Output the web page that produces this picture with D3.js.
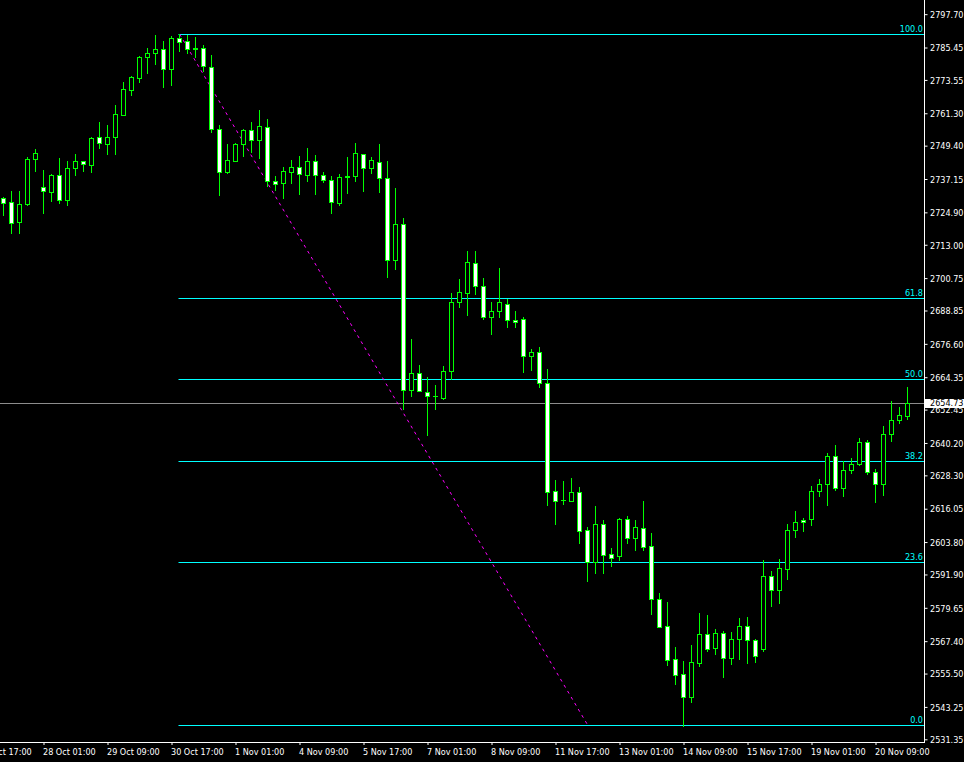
<!DOCTYPE html>
<html><head><meta charset="utf-8">
<script src="https://cdn.jsdelivr.net/npm/d3@7"></script>
<style>
html,body{margin:0;padding:0;background:#000;overflow:hidden}
text{font-family:"DejaVu Sans Condensed","DejaVu Sans",sans-serif;font-stretch:condensed;font-size:9px}
</style>
</head><body>
<svg id="c" width="964" height="762"></svg>
<script>
// H4 candles, bar index 0..113
const openP  = [2730.2,2728.7,2721.5,2728.1,2744.4,2734.1,2732.5,2738.5,2729.3,2741.1,
  2743.6,2742.4,2752.5,2750.1,2752.5,2760.8,2770.0,2774.4,2781.9,2783.3,
  2784.8,2777.7,2788.8,2787.8,2784.9,2785.2,2778.2,2755.4,2739.6,2743.9,
  2749.9,2755.0,2751.4,2756.1,2736.3,2735.6,2739.8,2741.5,2738.7,2743.6,
  2738.5,2736.7,2728.4,2737.9,2738.1,2746.2,2741.3,2743.3,2737.4,2707.3,
  2720.5,2659.8,2665.8,2658.8,2657.3,2656.8,2666.5,2691.9,2695.4,2706.2,
  2697.7,2686.4,2688.6,2691.1,2685.3,2685.6,2672.0,2673.5,2662.1,2622.4,
  2619.1,2619.0,2622.1,2608.1,2596.6,2610.3,2599.3,2598.6,2612.2,2605.4,
  2608.9,2602.2,2582.8,2572.9,2560.7,2555.3,2547.0,2559.5,2569.9,2565.0,
  2570.3,2561.3,2568.1,2572.9,2567.7,2564.6,2591.2,2586.1,2594.0,2608.1,
  2611.8,2612.2,2622.4,2625.0,2635.3,2623.5,2630.2,2632.4,2640.4,2629.4,
  2625.0,2643.4,2648.5,2650.0];
const highP  = [2730.5,2732.7,2732.7,2745.3,2748.2,2740.5,2739.0,2744.9,2743.9,2746.3,
  2743.6,2752.7,2758.1,2757.0,2764.3,2772.8,2775.0,2782.3,2785.3,2790.0,
  2787.7,2789.8,2790.3,2790.0,2789.3,2786.4,2782.7,2756.9,2750.0,2750.3,
  2755.4,2758.1,2762.5,2759.2,2738.3,2741.6,2744.1,2745.6,2748.5,2746.0,
  2739.7,2738.4,2739.0,2745.2,2750.4,2746.2,2745.2,2750.0,2743.8,2733.8,
  2722.7,2678.4,2668.8,2664.4,2661.5,2668.5,2695.3,2700.4,2710.7,2710.7,
  2700.8,2692.0,2704.5,2693.1,2688.7,2686.5,2674.7,2675.4,2667.4,2626.6,
  2626.2,2627.3,2624.0,2609.2,2617.0,2611.9,2601.6,2612.5,2613.4,2611.9,
  2618.9,2607.1,2585.1,2581.8,2565.3,2560.1,2566.0,2577.7,2577.0,2571.9,
  2571.1,2570.8,2575.9,2576.3,2568.1,2597.1,2593.2,2597.5,2610.3,2615.1,
  2612.6,2624.4,2627.0,2636.5,2639.4,2633.5,2634.6,2641.9,2641.2,2630.5,
  2646.3,2655.6,2653.3,2660.6];
const lowP   = [2723.9,2717.3,2717.3,2727.6,2740.2,2724.8,2729.1,2728.4,2727.6,2738.6,
  2740.2,2739.7,2748.5,2746.3,2746.3,2760.8,2768.1,2772.9,2776.2,2779.5,
  2771.1,2771.8,2784.3,2783.5,2782.1,2776.9,2754.5,2731.3,2739.5,2743.9,
  2745.6,2747.1,2745.0,2734.7,2733.2,2730.3,2735.8,2731.8,2736.5,2731.8,
  2735.9,2724.8,2727.6,2732.1,2736.3,2732.9,2739.5,2732.5,2701.3,2704.2,
  2652.6,2657.6,2659.2,2643.2,2652.8,2656.2,2663.8,2690.3,2687.3,2695.0,
  2685.8,2680.3,2686.4,2682.9,2682.9,2666.4,2667.0,2660.9,2617.5,2610.5,
  2617.9,2619.0,2603.6,2589.6,2592.5,2592.5,2595.1,2597.3,2603.6,2601.0,
  2601.0,2577.5,2572.7,2558.8,2551.8,2536.3,2545.2,2558.4,2563.9,2562.8,
  2554.3,2559.1,2561.0,2559.5,2559.9,2563.9,2580.4,2581.5,2590.3,2605.8,
  2608.0,2610.2,2620.8,2617.5,2622.8,2620.8,2629.1,2632.0,2628.7,2618.6,
  2621.2,2640.8,2647.4,2648.9];
const closeP = [2728.4,2721.1,2728.0,2744.5,2746.7,2732.6,2738.6,2729.3,2741.1,2743.6,
  2742.5,2752.2,2750.3,2752.5,2760.9,2770.1,2774.5,2781.9,2783.3,2784.8,
  2777.7,2788.8,2787.4,2784.8,2785.1,2778.5,2755.4,2739.6,2744.0,2750.0,
  2755.0,2751.4,2756.5,2736.3,2735.2,2740.0,2741.5,2738.9,2743.6,2738.5,
  2736.7,2728.6,2737.8,2738.1,2746.6,2741.3,2744.0,2737.6,2707.3,2720.5,
  2659.8,2665.8,2659.2,2657.3,2657.4,2666.5,2691.9,2695.5,2706.6,2697.7,
  2686.4,2688.6,2691.9,2685.3,2684.5,2672.0,2673.5,2662.1,2622.3,2619.0,
  2619.2,2622.1,2608.0,2596.6,2610.3,2599.2,2598.0,2612.2,2605.4,2609.2,
  2602.1,2582.8,2572.7,2560.6,2555.1,2547.0,2559.6,2569.9,2564.6,2570.3,
  2561.3,2568.1,2572.9,2567.7,2561.8,2591.2,2586.1,2594.2,2608.1,2611.1,
  2611.1,2622.4,2625.0,2635.3,2623.5,2630.2,2632.4,2640.4,2629.4,2625.0,
  2643.4,2648.5,2650.4,2654.73];

const priceTicks = [2797.70,2785.45,2773.55,2761.30,2749.40,2737.15,2724.90,2713.00,2700.75,
  2688.85,2676.60,2664.35,2652.45,2640.20,2628.30,2616.05,2603.80,2591.90,2579.65,
  2567.40,2555.50,2543.25,2531.35];
const timeTickIndex = [-3,5,13,21,29,37,45,53,61,69,77,85,93,101,109];
const timeTickLabels = ["24 Oct 17:00","28 Oct 01:00","29 Oct 09:00","30 Oct 17:00","1 Nov 01:00",
  "4 Nov 09:00","5 Nov 17:00","7 Nov 01:00","8 Nov 09:00","11 Nov 17:00","13 Nov 01:00",
  "14 Nov 09:00","15 Nov 17:00","19 Nov 01:00","20 Nov 09:00"];
const fibLevels = [100, 61.8, 50, 38.2, 23.6, 0];
const fibHigh = 2790.4, fibLow = 2536.7;
const fibStartIndex = 22, fibEndIndex = 73;
const lastPrice = 2654.73;

const plotR = 924, plotB = 742;
const svg = d3.select("#c");
svg.append("rect").attr("width",964).attr("height",762).attr("fill","#000");

const x = d3.scaleLinear().domain([0,113]).range([3.5,907.5]);
const y = d3.scaleLinear().domain([2530.36,2802.90]).range([plotB,0]);
const cy = v => Math.round(y(v)) + 0.5;

const GREEN = "#00ff00", AQUA = "#00ffff";

// fibonacci levels
const fibG = svg.append("g");
const fibPrice = l => fibLow + (fibHigh - fibLow) * l / 100;
fibG.selectAll("line").data(fibLevels).join("line")
  .attr("x1", x(fibStartIndex) - 1).attr("x2", plotR)
  .attr("y1", d => cy(fibPrice(d))).attr("y2", d => cy(fibPrice(d)))
  .attr("stroke", AQUA).attr("stroke-width", 1);
fibG.selectAll("text").data(fibLevels).join("text")
  .attr("x", plotR - 1).attr("y", d => cy(fibPrice(d)) - 2.5)
  .attr("text-anchor","end").attr("fill", AQUA)
  .text(d => d.toFixed(1));

// last price line
svg.append("line").attr("x1",0).attr("x2",plotR)
  .attr("y1",cy(lastPrice)).attr("y2",cy(lastPrice))
  .attr("stroke","#8c8c8c").attr("stroke-width",1);

// trend line (dotted magenta)
svg.append("line")
  .attr("x1", x(fibStartIndex)).attr("y1", y(fibHigh))
  .attr("x2", x(fibEndIndex)).attr("y2", y(fibLow))
  .attr("stroke","#ff00ff").attr("stroke-width",1).attr("stroke-dasharray","3,4");

// candles
const idx = d3.range(openP.length);
const cg = svg.append("g");
cg.selectAll("line").data(idx).join("line")
  .attr("x1", i => x(i)).attr("x2", i => x(i))
  .attr("y1", i => Math.round(y(highP[i]))).attr("y2", i => Math.round(y(lowP[i])) + 1)
  .attr("stroke", GREEN).attr("stroke-width",1);
cg.selectAll("rect").data(idx).join("rect")
  .attr("x", i => x(i) - 2)
  .attr("width", 4)
  .attr("y", i => cy(Math.max(openP[i], closeP[i])))
  .attr("height", i => Math.max(0.01, cy(Math.min(openP[i], closeP[i])) - cy(Math.max(openP[i], closeP[i]))))
  .attr("fill", i => closeP[i] >= openP[i] ? "#000" : "#fff")
  .attr("stroke", GREEN).attr("stroke-width",1);

// price axis
const yAxis = d3.axisRight(y).tickValues(priceTicks).tickSize(3).tickSizeOuter(0)
  .tickFormat(d3.format(".2f"));
const ya = svg.append("g").attr("transform",`translate(${plotR + 0.5},0)`).call(yAxis);
ya.attr("font-family",null).attr("font-size",null);
ya.select(".domain").remove();
ya.selectAll("line").attr("stroke","#fff");
ya.selectAll("text").attr("fill","#fff").attr("x",5.5).attr("dy","0.36em");
svg.append("line").attr("x1",plotR+0.5).attr("x2",plotR+0.5).attr("y1",0).attr("y2",plotB+0.5)
  .attr("stroke","#fff");

// time axis
const xa = d3.scaleLinear().domain([x.invert(0), x.invert(plotR)]).range([0, plotR]);
const xAxis = d3.axisBottom(xa).tickValues(timeTickIndex).tickSize(3).tickSizeOuter(0)
  .tickFormat((d,i) => timeTickLabels[i]);
const xg = svg.append("g").attr("transform",`translate(0,${plotB})`).call(xAxis);
xg.attr("font-family",null).attr("font-size",null);
xg.select(".domain").remove();
xg.selectAll("line").attr("stroke","#fff");
xg.selectAll("text").attr("fill","#fff").attr("text-anchor","start").attr("x",-1).attr("y",7).attr("dy","0.71em");
svg.append("line").attr("x1",0).attr("x2",plotR+1).attr("y1",plotB+0.5).attr("y2",plotB+0.5)
  .attr("stroke","#fff");

// last price label
const lpY = Math.round(y(lastPrice));
svg.append("rect").attr("x",925).attr("y",lpY-4).attr("width",39).attr("height",9).attr("fill","#fff");
svg.append("text").attr("x",930).attr("y",lpY).attr("dy","0.36em").attr("fill","#000")
  .text(lastPrice.toFixed(2));
</script>
</body></html>
